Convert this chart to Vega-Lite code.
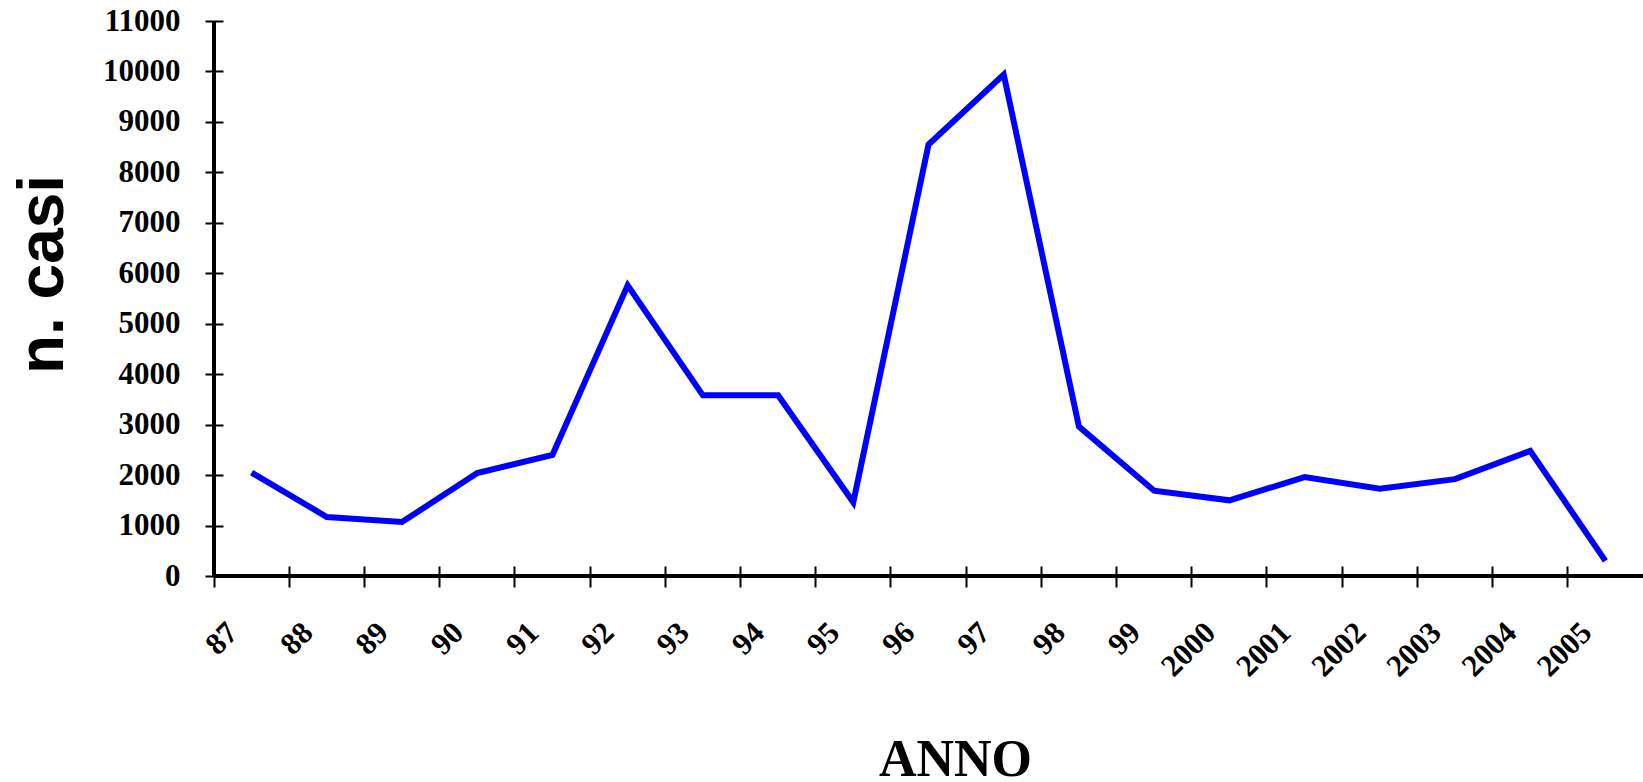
{
  "$schema": "https://vega.github.io/schema/vega-lite/v6.json",
  "width": 1429,
  "height": 555,
  "autosize": {"type": "none"},
  "padding": {"left": 214, "top": 21, "right": 0, "bottom": 206},
  "background": "white",
  "config": {"view": {"stroke": null}},
  "data": {"values": [
    {"anno": "87", "casi": 2050},
    {"anno": "88", "casi": 1170},
    {"anno": "89", "casi": 1070},
    {"anno": "90", "casi": 2040},
    {"anno": "91", "casi": 2400},
    {"anno": "92", "casi": 5760},
    {"anno": "93", "casi": 3580},
    {"anno": "94", "casi": 3580},
    {"anno": "95", "casi": 1460},
    {"anno": "96", "casi": 8550},
    {"anno": "97", "casi": 9940},
    {"anno": "98", "casi": 2960},
    {"anno": "99", "casi": 1690},
    {"anno": "2000", "casi": 1500},
    {"anno": "2001", "casi": 1960},
    {"anno": "2002", "casi": 1730},
    {"anno": "2003", "casi": 1920},
    {"anno": "2004", "casi": 2480},
    {"anno": "2005", "casi": 300}
  ]},
  "encoding": {
    "x": {"field": "anno", "type": "ordinal", "sort": null,
      "scale": {"type": "band", "paddingInner": 0, "paddingOuter": 0},
      "axis": {"orient": "bottom", "bandPosition": 0, "offset": -10, "domain": false,
        "labelAngle": -45, "labelAlign": "right", "labelBaseline": "top", "labelOffset": -29, "labelPadding": 30,
        "labelFont": "Liberation Serif", "labelFontWeight": "bold", "labelFontSize": 31, "labelColor": "black",
        "tickColor": "black", "tickWidth": 2, "tickSize": 21,
        "title": "ANNO", "titleFont": "Liberation Serif", "titleFontWeight": "bold", "titleFontSize": 52, "titleColor": "black",
        "titleX": 741, "titleY": 209, "titleAlign": "center", "titleBaseline": "alphabetic", "labelOverlap": false}},
    "y": {"field": "casi", "type": "quantitative",
      "scale": {"domain": [0, 11000], "nice": false},
      "axis": {"orient": "left", "offset": -9, "domain": false, "values": [0,1000,2000,3000,4000,5000,6000,7000,8000,9000,10000,11000], "format": "d", "grid": false,
        "labelFont": "Liberation Serif", "labelFontWeight": "bold", "labelFontSize": 31, "labelColor": "black", "labelPadding": 25,
        "tickColor": "black", "tickWidth": 2, "tickSize": 18,
        "title": "n. casi", "titleFont": "Liberation Sans", "titleFontWeight": "bold", "titleFontSize": 64, "titleColor": "black",
        "titleX": -161, "titleY": 253, "titleAngle": -90, "titleAlign": "center", "titleBaseline": "alphabetic", "labelOverlap": false}}
  },
  "layer": [
    {
      "mark": {"type": "rule", "color": "black", "strokeWidth": 2.5},
      "encoding": {
        "x": null,
        "y": {"datum": 0, "type": "quantitative"}
      }
    },
    {
      "mark": {"type": "rule", "color": "black", "strokeWidth": 2.5},
      "encoding": {
        "x": {"datum": "87", "type": "ordinal", "bandPosition": 0},
        "y": {"datum": 0, "type": "quantitative"},
        "y2": {"datum": 11000}
      }
    },
    {
      "mark": {"type": "line", "color": "#0000FF", "strokeWidth": 6, "strokeJoin": "miter"}
    }
  ]
}
